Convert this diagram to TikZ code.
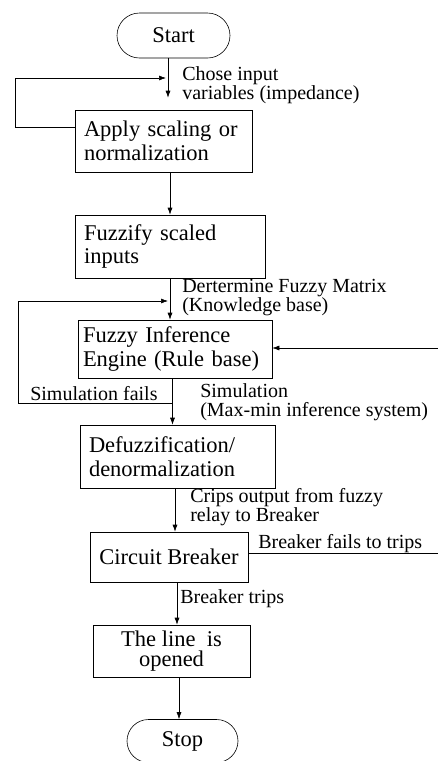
\documentclass[tikz,border=0pt]{standalone}
\usepackage{fontspec}
\setmainfont{Liberation Serif}
\usetikzlibrary{shapes.misc, arrows.meta}

\newcommand{\boxfont}{\fontsize{22.5}{23.5}\selectfont\lineskiplimit=-20pt}
\newcommand{\notefont}{\fontsize{20}{19}\selectfont\lineskiplimit=-20pt}

\begin{document}
\begin{tikzpicture}[x=1pt, y=-1pt, line width=0.6pt,
    >={Latex[length=7pt, width=5pt]},
    box/.style={draw, rectangle, align=left, inner xsep=9pt, inner ysep=0pt, font=\boxfont},
    term/.style={draw, rounded rectangle, inner sep=0pt, font=\boxfont},
    note/.style={anchor=north west, inner sep=0pt, align=left, font=\notefont}]
  \useasboundingbox (0, 0) rectangle (438, 761);

  % steps of the relay
  \node[term, minimum width=113pt, minimum height=45pt] (start) at (173.5, 35.5) {Start};
  \node[box, text width=159pt, minimum height=62pt] (apply) at (163.5, 141)
    {Apply scaling or\\normalization};
  \node[box, text width=172pt, minimum height=63pt] (fuzzify) at (170, 246.5)
    {Fuzzify scaled\\inputs};
  \node[box, inner xsep=5pt, text width=184pt, minimum height=58pt] (infer) at (175, 349)
    {Fuzzy Inference\\Engine (Rule base)};
  \node[box, text width=177pt, minimum height=63pt] (defuzz) at (177.5, 456.5)
    {Defuzzification/\\denormalization};
  \node[box, align=center, inner xsep=0pt, minimum width=158pt, minimum height=50pt] (breaker)
    at (169, 557) {Circuit Breaker};
  \node[box, align=center, inner xsep=0pt, minimum width=157pt, minimum height=52pt] (opened)
    at (171.5, 651) {The line\ \ is\\[-3pt]opened};
  \node[term, minimum width=111pt, minimum height=43pt] (stop) at (182.5, 741) {Stop};

  % main line
  \draw[->, shorten >=12pt] ([xshift=-5.5pt]start.south) -- ([xshift=-5.5pt]start.south |- apply.north);
  \draw[->] ([xshift=6.5pt]apply.south) -- ([xshift=6.5pt]apply.south |- fuzzify.north);
  \draw[->] (fuzzify.south) -- (fuzzify.south |- infer.north);
  \draw[->] ([xshift=-2.5pt]infer.south) -- ([xshift=-2.5pt]infer.south |- defuzz.north);
  \draw[->] ([xshift=-2.5pt]defuzz.south) -- ([xshift=-2.5pt]defuzz.south |- breaker.north);
  \draw[->] ([xshift=8pt]breaker.south) -- ([xshift=8pt]breaker.south |- opened.north);
  \draw[->] ([xshift=7.5pt]opened.south) -- ([xshift=7.5pt]opened.south |- stop.north);

  % loops back
  \coordinate (up1) at (15, 78);
  \draw[->] ([yshift=14pt]apply.west) -| (up1) -- ([xshift=-7.5pt]start.south |- up1);

  \coordinate (up2) at (18, 301);
  \coordinate (fail) at ([xshift=-2.5pt, yshift=-25pt]infer.south);
  \draw[->] (fail) -| (up2) -- ([xshift=-2pt]fuzzify.south |- up2);

  % in and out on the right
  \coordinate (ext) at (438, 348);
  \draw[->] (ext) -- (infer.east |- ext);
  \coordinate (out) at (438, 553);
  \draw (breaker.east |- out) -- (out);

  % labels
  \node[note] (chose) at (182, 66) {Chose input\\variables (impedance)};
  \node[note] (matrix) at (182, 279) {Dertermine Fuzzy Matrix\\(Knowledge base)};
  \node[note, anchor=base west] (failtxt) at (30, 400) {Simulation fails};
  \node[note] (sim) at (200, 383) {Simulation\\(Max-min inference system)};
  \node[note] (crips) at (190, 488) {Crips output from fuzzy\\relay to Breaker};
  \node[note, anchor=base west] (tripfail) at (258, 548) {Breaker fails to trips};
  \node[note, anchor=base west] (trips) at (180, 603) {Breaker trips};
\end{tikzpicture}
\end{document}
